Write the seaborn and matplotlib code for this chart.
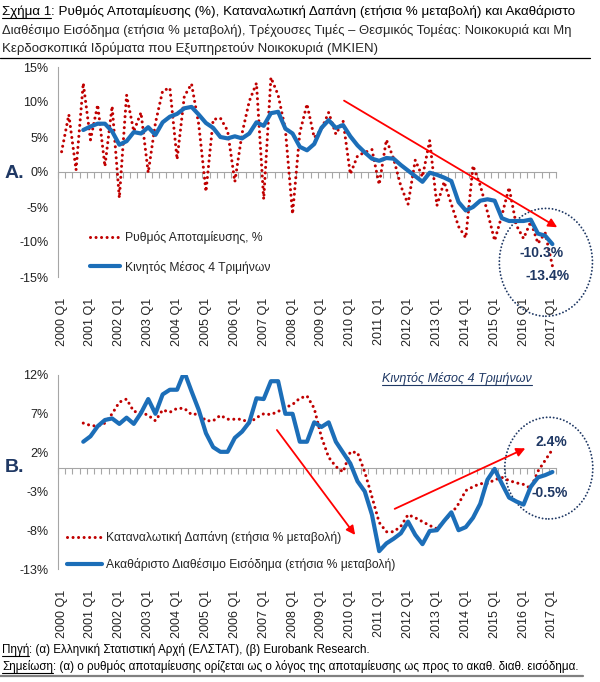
import numpy as np
import pandas as pd
import matplotlib
matplotlib.use("Agg")
import matplotlib.pyplot as plt
import seaborn as sns
from matplotlib.lines import Line2D
from matplotlib.patches import Ellipse

# quarters 2000 Q1 .. 2017 Q1
quarters = [f"{y} Q{q}" for y in range(2000, 2018) for q in range(1, 5)][:69]

# panel A: saving rate (%) and its 4-quarter moving average
saving_rate = [2.9, 8.2, 0.3, 12.7, 4.6, 9.6, 0.8, 9.4, -3.7, 11.0,
               5.8, 8.5, -0.1, 7.0, 11.6, 12.0, 1.8, 10.8, 12.6, 6.8,
               -2.8, 7.5, 7.7, 5.9, -1.4, 5.5, 10.1, 12.7, -3.9, 13.5,
               11.0, 6.1, -6.0, 5.6, 9.7, 4.9, 6.1, 8.5, 5.4, 7.3,
               -0.3, 2.3, 2.8, 3.2, -1.8, 4.6, 1.9, -2.0, -4.6, 1.7,
               -0.7, 4.5, -4.8, -1.4, -4.6, -7.8, -9.4, 0.9, -1.9, -5.7,
               -9.8, -6.2, -2.2, -7.6, -9.5, -7.1, -10.2, -8.7, -13.4]
saving_ma = [None, None, None,
             6.0, 6.5, 6.9, 6.9, 5.8, 3.9, 4.4, 5.7, 5.5, 6.4,
             5.3, 7.1, 7.9, 8.3, 9.1, 9.3, 8.2, 7.0, 6.3, 5.0,
             4.8, 5.1, 4.8, 5.5, 7.1, 6.6, 8.4, 8.6, 6.2, 5.5,
             3.6, 3.1, 4.0, 6.3, 7.4, 6.3, 6.7, 5.1, 3.8, 2.8,
             1.9, 1.6, 2.0, 1.9, 1.0, 0.2, -0.6, -1.4, -0.1, -0.4,
             -0.8, -1.3, -4.3, -5.5, -5.0, -4.1, -3.9, -4.1, -6.6, -7.0,
             -7.0, -7.0, -6.8, -8.8, -9.1, -10.3]

# panel B: consumption and gross disposable income (annual % change, 4q MA)
consumption = [None, None, None,
               5.8, 5.5, 5.4, 5.8, 7.0, 8.5, 8.9, 7.3, 7.2, 6.8,
               6.1, 7.5, 7.2, 7.7, 7.7, 6.9, 7.0, 6.1, 6.1, 6.8,
               6.3, 6.3, 6.3, 5.8, 6.5, 7.0, 6.9, 7.3, 7.8, 8.2,
               9.0, 9.3, 7.7, 4.0, 1.4, 0.2, -0.5, 2.1, 2.0, -0.5,
               -3.7, -7.0, -8.2, -8.2, -7.5, -6.0, -6.4, -6.9, -7.4, -7.8,
               -6.8, -5.9, -4.6, -2.9, -2.4, -2.0, -2.0, -1.5, -1.2, -1.6,
               -1.9, -2.1, -2.6, -0.4, 1.0, 2.4]
income = [None, None, None,
          3.4, 4.1, 5.4, 6.2, 6.4, 5.7, 6.5, 5.7, 7.1, 8.9,
          7.0, 9.5, 10.1, 10.1, 12.4, 9.9, 7.5, 4.5, 2.7, 2.1,
          2.1, 3.9, 4.7, 5.9, 9.0, 8.9, 11.2, 11.2, 7.0, 7.0,
          3.4, 3.4, 5.9, 5.3, 5.9, 3.4, 2.0, 0.6, -1.7, -3.0,
          -6.0, -10.7, -9.7, -9.1, -8.4, -6.9, -8.6, -9.8, -8.1, -8.0,
          -6.8, -5.7, -8.0, -7.6, -6.4, -4.6, -1.5, -0.1, -2.0, -3.8,
          -4.3, -4.7, -2.4, -1.2, -0.9, -0.5]

RED = "#C00000"
BLUE = "#1C6EB8"
NAVY = "#1F3864"
GRAY = "#A6A6A6"
TXT = "#222222"

sns.set_style("white")
plt.rcParams["font.family"] = ["Liberation Sans", "DejaVu Sans"]

W, H = 600, 682
fig = plt.figure(figsize=(W / 100, H / 100), dpi=100)


def fx(px):
    return px / W


def fy(py):
    return 1 - py / H


axA = fig.add_axes([fx(58), fy(277), fx(556) - fx(58), fy(67) - fy(277)])
axB = fig.add_axes([fx(58), fy(569), fx(556) - fx(58), fy(375) - fy(569)])

df = pd.DataFrame({"q": range(len(quarters)), "saving": saving_rate,
                   "saving_ma": saving_ma, "cons": consumption,
                   "inc": income}, dtype=float)

dotted = dict(color=RED, lw=2.2, linestyle=(0, (0.01, 1.8)),
              dash_capstyle="round", errorbar=None)
solid = dict(color=BLUE, lw=3.0, solid_capstyle="round", errorbar=None)

sns.lineplot(data=df, x="q", y="saving", ax=axA,
             label="Ρυθμός Αποταμίευσης, %", **dotted)
sns.lineplot(data=df, x="q", y="saving_ma", ax=axA,
             label="Κινητός Μέσος 4 Τριμήνων", **solid)
sns.lineplot(data=df, x="q", y="cons", ax=axB,
             label="Καταναλωτική Δαπάνη (ετήσια % μεταβολή)", **dotted)
sns.lineplot(data=df, x="q", y="inc", ax=axB,
             label="Ακαθάριστο Διαθέσιμο Εισόδημα (ετήσια % μεταβολή)", **solid)


def style(ax, ylo, yhi):
    ax.set_xlim(-0.5, len(quarters) - 0.5)
    ax.set_ylim(ylo, yhi)
    ax.set_yticks(np.arange(ylo, yhi + 1, 5))
    ax.yaxis.set_major_formatter(lambda v, p: f"{v:.0f}%")
    ax.set_xticks(range(0, len(quarters), 4))
    ax.set_xticklabels(quarters[::4], rotation=90)
    ax.tick_params(axis="x", length=0, pad=15, labelsize=9, labelcolor=TXT)
    ax.tick_params(axis="y", length=4, width=0.8, color=GRAY, direction="out",
                   pad=3, labelsize=9, labelcolor=TXT)
    for s in ["top", "right", "bottom"]:
        ax.spines[s].set_visible(False)
    ax.spines["left"].set_color(GRAY)
    ax.spines["left"].set_linewidth(0.8)
    ax.set_xlabel("")
    ax.set_ylabel("")
    # category axis crossing at zero, tick marks between quarters
    zero = ax.secondary_xaxis((0 - ylo) / (yhi - ylo))
    zero.set_alignment("bottom")
    zero.set_xticks(np.arange(-0.5, len(quarters), 1))
    zero.tick_params(length=4, width=0.8, color=GRAY,
                     labelbottom=False, labeltop=False)
    zero.spines["bottom"].set_color(GRAY)
    zero.spines["bottom"].set_linewidth(0.8)


style(axA, -15, 15)
style(axB, -13, 12)

axA.legend(loc="center left", bbox_to_anchor=(0.064, 0.117), frameon=False,
           fontsize=8.7, handlelength=2.5, handletextpad=0.4,
           labelspacing=1.35, borderpad=0, borderaxespad=0)
axB.legend(loc="center left", bbox_to_anchor=(0.018, 0.093), frameon=False,
           fontsize=8.7, handlelength=2.9, handletextpad=0.3,
           labelspacing=1.15, borderpad=0, borderaxespad=0)

# arrows
arrow = dict(arrowstyle="-|>", color="#FF0000", lw=1.3, mutation_scale=13)
axA.annotate("", xy=(69.0, -8.1), xytext=(38.8, 10.4),
             arrowprops=arrow, annotation_clip=False)
axB.annotate("", xy=(40.9, -8.9), xytext=(29.6, 5.2),
             arrowprops=arrow, annotation_clip=False)
axB.annotate("", xy=(64.6, 2.7), xytext=(45.8, -5.4),
             arrowprops=arrow, annotation_clip=False)

# dotted circles
for ax, c, w, h in [(axA, (67.1, -12.9), 12.9, 15.4),
                    (axB, (67.5, 0.0), 12.2, 13.1)]:
    e = Ellipse(c, w, h, fill=False, ec=NAVY, lw=1.4,
                ls=(0, (0.01, 1.8)), clip_on=False)
    e.set_capstyle("round")
    ax.add_patch(e)

lab = dict(color=NAVY, fontsize=10, fontweight="bold", ha="center", va="center")
axA.text(66.5, -11.6, "-10.3%", **lab)
axA.text(67.4, -14.8, "-13.4%", **lab)
axB.text(67.9, 3.4, "2.4%", **lab)
axB.text(67.6, -3.2, "-0.5%", **lab)

fig.text(fx(5), fy(173), "A.", color=NAVY, fontsize=14, fontweight="bold", va="center")
fig.text(fx(5), fy(467), "B.", color=NAVY, fontsize=14, fontweight="bold", va="center")

r = fig.canvas.get_renderer()


def underline(t, color, lw=0.8, drop=0):
    bb = t.get_window_extent(r)
    y = (bb.y0 - drop) / H
    fig.add_artist(Line2D([bb.x0 / W, bb.x1 / W], [y, y], color=color, lw=lw))
    return bb


def head_tail(px, py, head, tail, size):
    t = fig.text(fx(px), fy(py), head, fontsize=size, va="baseline", color="black")
    bb = underline(t, "black")
    fig.text(bb.x1 / W, fy(py), tail, fontsize=size, va="baseline", color="black")


head_tail(2, 15, "Σχήμα 1",
          ": Ρυθμός Αποταμίευσης (%), Καταναλωτική Δαπάνη (ετήσια % μεταβολή) και Ακαθάριστο", 9.6)
fig.text(fx(2), fy(34), "Διαθέσιμο Εισόδημα (ετήσια % μεταβολή), Τρέχουσες Τιμές – Θεσμικός Τομέας: Νοικοκυριά και Μη",
         fontsize=9.4, va="baseline")
fig.text(fx(2), fy(52), "Κερδοσκοπικά Ιδρύματα που Εξυπηρετούν Νοικοκυριά (ΜΚΙΕΝ)",
         fontsize=9.5, va="baseline")
fig.add_artist(Line2D([0, fx(590)], [fy(58), fy(58)], color="black", lw=0.9))

t = fig.text(fx(457), fy(379), "Κινητός Μέσος 4 Τριμήνων", color=NAVY, fontsize=9,
             style="italic", ha="center", va="center")
underline(t, NAVY)

head_tail(2, 653, "Πηγή", ": (α) Ελληνική Στατιστική Αρχή (ΕΛΣΤΑΤ), (β) Eurobank Research.", 8.4)
head_tail(2, 670, "Σημείωση",
          ": (α) ο ρυθμός αποταμίευσης ορίζεται ως ο λόγος της αποταμίευσης ως προς το ακαθ. διαθ. εισόδημα.", 8.4)
fig.add_artist(Line2D([0, fx(583)], [fy(676), fy(676)], color="#808080", lw=1.6))

fig.savefig("out.png", dpi=100)
